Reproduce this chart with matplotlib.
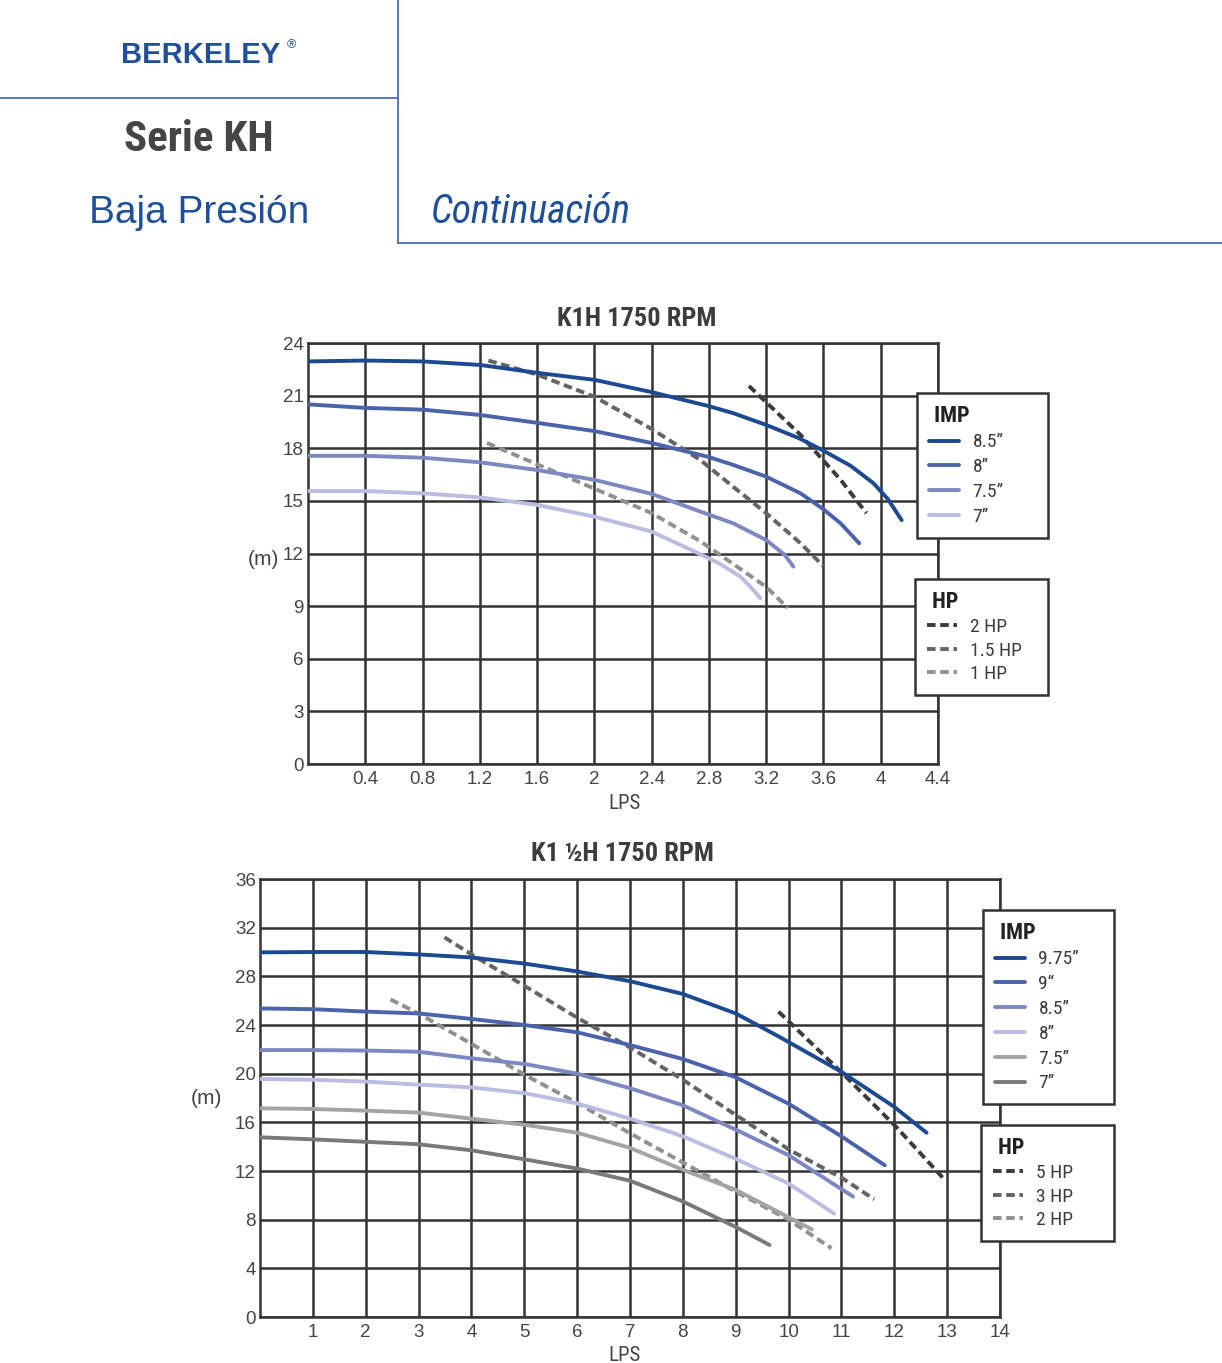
import os
import numpy as np
import matplotlib
matplotlib.use("Agg")
import matplotlib.pyplot as plt
from matplotlib.lines import Line2D
from matplotlib import font_manager as fm

# ---- data: K1H 1750 RPM (LPS vs m) ----
k1_x_85 = [0, 0.4, 0.8, 1.2, 1.6, 2.0, 2.4, 2.8, 2.97, 3.2, 3.43, 3.6, 3.79, 3.95, 4.05, 4.146]
k1_y_85 = [22.95, 23.0, 22.95, 22.75, 22.3, 21.9, 21.2, 20.4, 20.0, 19.33, 18.57, 17.86, 17.0, 16.0, 15.1, 13.9]
k1_x_80 = [0, 0.4, 0.8, 1.2, 1.6, 2.0, 2.4, 2.8, 2.97, 3.2, 3.44, 3.6, 3.72, 3.85]
k1_y_80 = [20.5, 20.3, 20.2, 19.9, 19.45, 18.98, 18.3, 17.5, 17.05, 16.38, 15.43, 14.52, 13.72, 12.58]
k1_x_75 = [0, 0.4, 0.8, 1.2, 1.6, 2.0, 2.4, 2.73, 2.97, 3.2, 3.33, 3.39]
k1_y_75 = [17.57, 17.57, 17.46, 17.2, 16.76, 16.2, 15.4, 14.42, 13.72, 12.77, 11.92, 11.25]
k1_x_70 = [0, 0.4, 0.8, 1.2, 1.6, 2.0, 2.4, 2.73, 2.88, 3.02, 3.09, 3.16]
k1_y_70 = [15.56, 15.56, 15.43, 15.2, 14.77, 14.1, 13.25, 12.0, 11.4, 10.68, 10.1, 9.45]
k1_imp = ['8.5”', '8”', '7.5”', '7”']

k1_hp2_x = [3.08, 3.44, 3.72, 3.90]
k1_hp2_y = [21.55, 18.76, 16.2, 14.3]
k1_hp15_x = [1.26, 1.6, 2.0, 2.4, 2.74, 2.97, 3.2, 3.44, 3.6]
k1_hp15_y = [23.0, 22.2, 20.94, 19.1, 17.33, 15.8, 14.3, 12.58, 11.28]
k1_hp1_x = [1.25, 2.0, 2.4, 2.74, 2.97, 3.2, 3.35]
k1_hp1_y = [18.3, 15.7, 14.3, 12.7, 11.4, 10.1, 8.9]
k1_hp = ['2 HP', '1.5 HP', '1 HP']

# ---- data: K1 1/2H 1750 RPM ----
k15_x_975 = [0, 1, 2, 3, 4, 5, 6, 7, 8, 9, 9.71, 10, 11, 12, 12.61]
k15_y_975 = [29.97, 30.0, 30.0, 29.8, 29.55, 29.05, 28.4, 27.6, 26.55, 24.95, 23.3, 22.6, 20.15, 17.27, 15.15]
k15_x_90 = [0, 1, 2, 3, 4, 5, 6, 7, 8, 9, 10, 11, 11.82]
k15_y_90 = [25.36, 25.3, 25.1, 24.95, 24.5, 24.0, 23.4, 22.35, 21.2, 19.7, 17.53, 14.85, 12.47]
k15_x_85 = [0, 1, 2, 3, 4, 5, 6, 7, 8, 9, 10, 11.22]
k15_y_85 = [21.94, 21.94, 21.9, 21.8, 21.26, 20.8, 20.0, 18.8, 17.4, 15.4, 13.3, 9.9]
k15_x_80 = [0, 1, 2, 3, 4, 5, 6, 7, 8, 9, 10, 10.86]
k15_y_80 = [19.56, 19.5, 19.35, 19.1, 18.87, 18.4, 17.55, 16.3, 14.85, 13.0, 10.97, 8.5]
k15_x_75 = [0, 1, 2, 3, 4, 5, 6, 7, 8, 9, 10, 10.44]
k15_y_75 = [17.15, 17.1, 16.96, 16.8, 16.3, 15.8, 15.15, 13.9, 12.1, 10.45, 8.2, 7.2]
k15_x_70 = [0, 1, 2, 3, 4, 5, 6, 7, 8, 9, 9.64]
k15_y_70 = [14.77, 14.6, 14.4, 14.2, 13.7, 12.96, 12.2, 11.2, 9.5, 7.4, 5.92]
k15_imp = ['9.75”', '9“', '8.5”', '8”', '7.5”', '7”']

k15_hp5_x = [9.81, 11.02, 12.03, 12.96]
k15_hp5_y = [25.1, 20.03, 15.65, 11.25]
k15_hp3_x = [3.49, 4.02, 5.01, 6.02, 7.02, 8.0, 9.02, 10.03, 11.02, 11.62]
k15_hp3_y = [31.2, 29.75, 27.2, 24.55, 22.1, 19.5, 16.55, 13.7, 11.4, 9.67]
k15_hp2_x = [2.47, 3.02, 4.02, 5.01, 6.02, 7.0, 8.0, 9.0, 10.0, 10.81]
k15_hp2_y = [26.1, 24.9, 22.4, 19.9, 17.55, 15.1, 12.7, 10.3, 8.0, 5.65]
k15_hp = ['5 HP', '3 HP', '2 HP']


# ---- fonts: look for a condensed face, else fall back to DejaVu ----
def find_narrow(style):
    files = sorted(set(f.fname for f in fm.fontManager.ttflist))
    prefs = ['liberationsansnarrow', 'robotocondensed', 'notosans-condensed', 'opensans-condensed',
             'opensans_condensed', 'dejavusanscondensed', 'condensed', 'narrow']

    def kind(path):
        low = os.path.splitext(os.path.basename(path))[0].lower()
        if any(k in low for k in ('light', 'thin', 'medium', 'black', 'semibold', 'extrabold',
                                  'demibold', 'heavy')):
            return None
        bold = 'bold' in low
        ital = 'italic' in low or 'oblique' in low
        return ('bold' if bold else 'regular') + ('italic' if ital else '')

    for i, p in enumerate(prefs):
        for path in files:
            low = os.path.basename(path).lower().replace(' ', '')
            if p not in low:
                continue
            if i < len(prefs) - 2 and ('semicondensed' in low or 'extracondensed' in low):
                continue
            if kind(path) == style:
                return path
    return None


def nfont(style, size):
    path = find_narrow(style)
    if path:
        return fm.FontProperties(fname=path, size=size)
    return fm.FontProperties(family='DejaVu Sans', size=size * 0.9,
                             weight='bold' if 'bold' in style else 'normal',
                             style='italic' if 'italic' in style else 'normal')


def pfont(size, weight='normal'):
    return fm.FontProperties(family=['Liberation Sans', 'DejaVu Sans'], size=size, weight=weight)


# ---- styling ----
blue_c = ['#1b4a92', '#4b63aa', '#7d88c3', '#b9bde2']
gray_c = ['#a3a4a8', '#78797c']
dash_c = ['#3b3b3b', '#646464', '#909090']
grid_c = '#333333'
head_c = '#1f4e9a'
line_c = '#4a6db3'
LW = 2.8
DASH = (2.2, 1.2)

fig = plt.figure(figsize=(12.22, 13.63), dpi=100)

# header
fig.add_artist(Line2D([0, 398/1222], [1-98/1363]*2, color=line_c, lw=1.3))
fig.add_artist(Line2D([398/1222]*2, [1, 1-243/1363], color=line_c, lw=1.3))
fig.add_artist(Line2D([398/1222, 1], [1-243/1363]*2, color=line_c, lw=1.3))
fig.text(201/1222, 1-63/1363, 'BERKELEY', color=head_c, fontproperties=pfont(21, 'bold'),
         ha='center', va='baseline')
fig.text(291/1222, 1-45/1363, '®', color=head_c, fontproperties=pfont(9), ha='center', va='center')
fig.text(199/1222, 1-151/1363, 'Serie KH', color='#454545', fontproperties=nfont('bold', 31),
         ha='center', va='baseline')
fig.text(199/1222, 1-223/1363, 'Baja Presión', color=head_c, fontproperties=pfont(28),
         ha='center', va='baseline')
fig.text(431/1222, 1-223/1363, 'Continuación', color=head_c, fontproperties=nfont('regularitalic', 28.5),
         ha='left', va='baseline')


def setup(ax, xmax, xstep, ymax, ystep, title, tx):
    ax.set_xlim(0, xmax)
    ax.set_ylim(0, ymax)
    xt = np.arange(xstep, xmax + xstep/2, xstep)
    ax.set_xticks(xt)
    ax.set_xticklabels([('%g' % round(v, 1)) for v in xt])
    ax.set_yticks(np.arange(0, ymax + 0.1, ystep))
    ax.grid(True, color=grid_c, lw=1.8)
    ax.set_axisbelow(True)
    for s in ax.spines.values():
        s.set_color(grid_c)
        s.set_linewidth(1.8)
    ax.tick_params(length=0, labelcolor='#444444')
    ax.tick_params(axis='x', pad=5)
    ax.tick_params(axis='y', pad=3)
    for lab in ax.get_xticklabels() + ax.get_yticklabels():
        lab.set_fontproperties(pfont(13.5))
    ax.text(tx, 1.058, title, transform=ax.transAxes, ha='center', va='center',
            fontproperties=nfont('bold', 19), color='#3c3c3c')
    ax.set_xlabel('LPS', fontproperties=nfont('regular', 15), color='#444444', va='center')
    ax.set_ylabel('(m)', fontproperties=pfont(15), color='#444444', rotation=0,
                  va='center', ha='center')


def legends(ax, imp_handles, imp_labels, hp_handles, hp_labels, imp_pos, hp_pos):
    kw = dict(loc='upper left', mode='expand', bbox_transform=fig.transFigure,
              fancybox=False, framealpha=1, edgecolor=grid_c, alignment='left',
              prop=nfont('regular', 14), handlelength=1.55, handletextpad=0.7,
              borderpad=0.6, borderaxespad=0)
    l1 = ax.legend(imp_handles, imp_labels, title=' IMP', bbox_to_anchor=imp_pos,
                   labelspacing=0.35, **kw)
    ax.add_artist(l1)
    l2 = ax.legend(hp_handles, hp_labels, title=' HP', bbox_to_anchor=hp_pos,
                   labelspacing=0.28, **kw)
    for l in (l1, l2):
        l.get_title().set_fontproperties(nfont('bold', 16))
        l.get_frame().set_linewidth(1.8)
        l.set_zorder(10)
        for t in l.get_texts():
            t.set_color('#3c3c3c')
        l.get_title().set_color('#222222')


# ---- top chart ----
ax1 = fig.add_axes([308/1222, 1-764/1363, 630/1222, 421/1363])
setup(ax1, 4.4, 0.4, 24, 3, 'K1H 1750 RPM', 0.522)
ax1.xaxis.set_label_coords(0.503, -0.093)
ax1.yaxis.set_label_coords(-0.07, 0.485)

imp1 = []
for xs, ys, c in [(k1_x_85, k1_y_85, blue_c[0]), (k1_x_80, k1_y_80, blue_c[1]),
                  (k1_x_75, k1_y_75, blue_c[2]), (k1_x_70, k1_y_70, blue_c[3])]:
    h, = ax1.plot(xs, ys, color=c, lw=LW, solid_capstyle='round', solid_joinstyle='round', zorder=4)
    imp1.append(h)
hp1 = []
for xs, ys, c in [(k1_hp2_x, k1_hp2_y, dash_c[0]), (k1_hp15_x, k1_hp15_y, dash_c[1]),
                  (k1_hp1_x, k1_hp1_y, dash_c[2])]:
    h, = ax1.plot(xs, ys, color=c, lw=LW, dashes=DASH, zorder=3)
    hp1.append(h)

legends(ax1, imp1, k1_imp, hp1, k1_hp,
        (917/1222, 1-534/1363, 131/1222, 141/1363),
        (915/1222, 1-692/1363, 133/1222, 113/1363))

# ---- bottom chart ----
ax2 = fig.add_axes([260/1222, 1-1317/1363, 740/1222, 438/1363])
setup(ax2, 14, 1, 36, 4, 'K1 ½H 1750 RPM', 0.49)
ax2.xaxis.set_label_coords(0.493, -0.087)
ax2.yaxis.set_label_coords(-0.072, 0.498)

imp2 = []
curves = [(k15_x_975, k15_y_975, blue_c[0]), (k15_x_90, k15_y_90, blue_c[1]),
          (k15_x_85, k15_y_85, blue_c[2]), (k15_x_80, k15_y_80, blue_c[3]),
          (k15_x_75, k15_y_75, gray_c[0]), (k15_x_70, k15_y_70, gray_c[1])]
for xs, ys, c in curves:
    h, = ax2.plot(xs, ys, color=c, lw=LW, solid_capstyle='round', solid_joinstyle='round', zorder=4)
    imp2.append(h)
hp2 = []
for xs, ys, c in [(k15_hp5_x, k15_hp5_y, dash_c[0]), (k15_hp3_x, k15_hp3_y, dash_c[1]),
                  (k15_hp2_x, k15_hp2_y, dash_c[2])]:
    h, = ax2.plot(xs, ys, color=c, lw=LW, dashes=DASH, zorder=3)
    hp2.append(h)

legends(ax2, imp2, k15_imp, hp2, k15_hp,
        (983/1222, 1-1108/1363, 131/1222, 198/1363),
        (981/1222, 1-1238/1363, 133/1222, 113/1363))

fig.savefig('out.png', dpi=100)
